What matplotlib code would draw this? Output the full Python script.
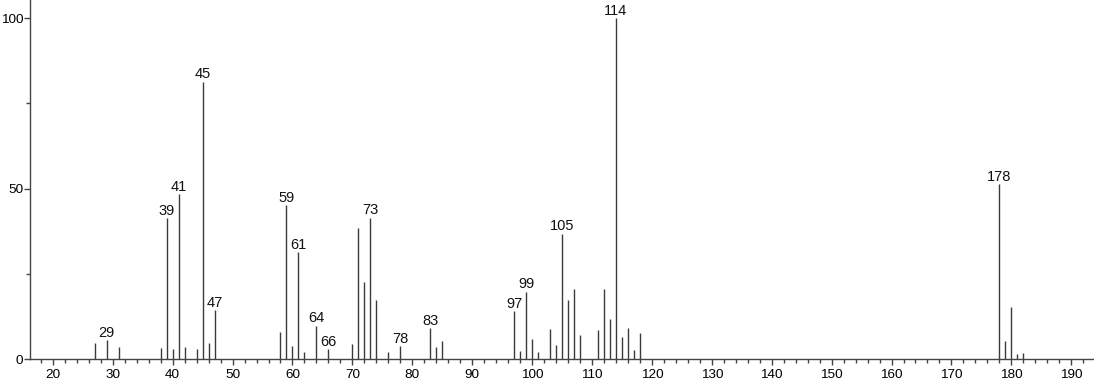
import numpy as np
import matplotlib
matplotlib.use('Agg')
import matplotlib.pyplot as plt
from matplotlib.ticker import MultipleLocator

# m/z values and relative intensities
mz = [27, 29, 31, 38, 39, 40, 41, 42, 44, 45, 46, 47,
      58, 59, 60, 61, 62, 64, 66, 70, 71, 72, 73, 74, 76, 78,
      83, 84, 85, 97, 98, 99, 100, 101, 103, 104, 105, 106, 107, 108,
      111, 112, 113, 114, 115, 116, 117, 118, 178, 179, 180, 181, 182]
intensity = [4.8, 5.6, 3.4, 3.1, 41.3, 2.9, 48.4, 3.4, 2.9, 81.3, 4.8, 14.4,
             8.0, 45.2, 3.9, 31.3, 2.1, 9.8, 2.8, 4.4, 38.4, 22.7, 41.4, 17.3, 2.1, 3.8,
             9.0, 3.4, 5.3, 14.1, 2.3, 19.8, 5.8, 2.1, 8.8, 4.1, 36.7, 17.3, 20.6, 7.0,
             8.5, 20.4, 11.6, 100.0, 6.5, 9.0, 2.6, 7.7, 51.2, 5.3, 15.3, 1.5, 1.7]
labelled = [29, 39, 41, 45, 47, 59, 61, 64, 66, 73, 78, 83, 97, 99, 105, 114, 178]

plt.rcParams['font.family'] = ['Liberation Sans', 'DejaVu Sans']

fig = plt.figure(figsize=(10.94, 3.84), dpi=100)
ax = fig.add_axes([0.0275, 0.065, 0.9725, 0.935])

ax.vlines(mz, 0, intensity, color='#3a3a3a', linewidth=1.0)

for m, h in zip(mz, intensity):
    if m in labelled:
        ax.annotate(str(m), (m, h), xytext=(0, 0.3), textcoords='offset points',
                    ha='center', va='bottom', fontsize=10.5, color='#111111')

ax.set_xlim(16.2, 193.8)
ax.set_ylim(0, 105.3)
ax.xaxis.set_major_locator(MultipleLocator(10))
ax.xaxis.set_minor_locator(MultipleLocator(2))
ax.yaxis.set_major_locator(MultipleLocator(50))
ax.yaxis.set_minor_locator(MultipleLocator(25))

for s in ['top', 'right']:
    ax.spines[s].set_visible(False)
for s in ['left', 'bottom']:
    ax.spines[s].set_color('#444444')
    ax.spines[s].set_linewidth(1.0)

ax.tick_params(axis='both', which='major', direction='out', length=4.5, width=1,
               color='#444444', labelsize=9.7)
ax.tick_params(axis='x', which='major', pad=3)
ax.tick_params(axis='y', which='major', pad=0.5)
ax.tick_params(axis='both', which='minor', direction='out', length=3, width=1,
               color='#444444')

fig.savefig('out.png', dpi=100)
